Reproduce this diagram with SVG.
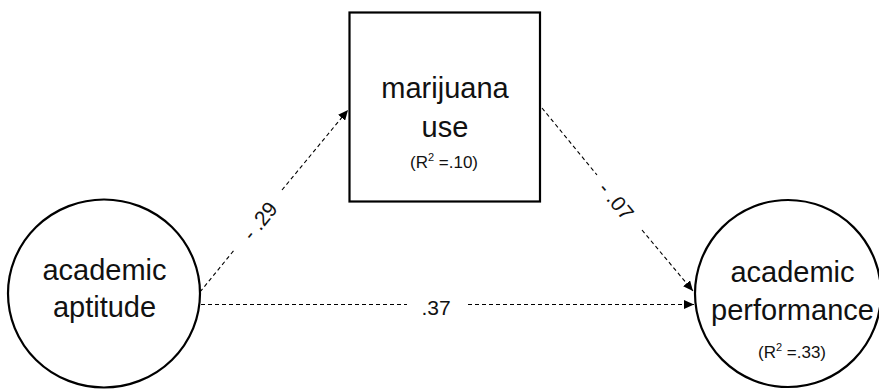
<svg xmlns="http://www.w3.org/2000/svg" width="879" height="389" viewBox="0 0 879 389">
  <style>
    .node { fill: #ffffff; stroke: #000000; stroke-width: 2.2; }
    .big { font-family: "Liberation Sans", Arial, sans-serif; font-size: 29px; fill: #111111; text-anchor: middle; }
    .small { font-family: "Liberation Sans", Arial, sans-serif; font-size: 17px; fill: #111111; text-anchor: middle; }
    .coef { font-family: "Liberation Sans", Arial, sans-serif; font-size: 21px; fill: #111111; text-anchor: middle; }
    .path { fill: none; stroke: #000000; stroke-width: 1.1; stroke-dasharray: 4 3; }
  </style>
  <defs>
    <marker id="arrow" markerUnits="userSpaceOnUse" markerWidth="11" markerHeight="9" refX="10" refY="4.5" orient="auto">
      <path d="M0,0 L10,4.5 L0,9 z" fill="#000000"/>
    </marker>
  </defs>
  <rect width="879" height="389" fill="#ffffff"/>

  <!-- path connectors -->
  <g id="connectors">
    <!-- academic aptitude -> marijuana use -->
    <line class="path" x1="200" y1="292" x2="235" y2="249"/>
    <line class="path" x1="282" y1="190" x2="348" y2="110" marker-end="url(#arrow)"/>
    <text class="coef" transform="translate(260,221) rotate(-50.9)" y="7">- .29</text>
    <!-- marijuana use -> academic performance -->
    <line class="path" x1="542" y1="108" x2="597" y2="175"/>
    <line class="path" x1="642" y1="230" x2="693" y2="291" marker-end="url(#arrow)"/>
    <text class="coef" transform="translate(616,201) rotate(50.5)" y="7">- .07</text>
    <!-- academic aptitude -> academic performance -->
    <line class="path" x1="201" y1="304.5" x2="407" y2="304.5"/>
    <line class="path" x1="468" y1="304.5" x2="694" y2="304.5" marker-end="url(#arrow)"/>
    <text class="coef" x="436" y="315">.37</text>
  </g>

  <g id="marijuana-use">
    <rect class="node" x="349.5" y="12.5" width="190.5" height="189"/>
    <text class="big" x="445" y="98">marijuana</text>
    <text class="big" x="445" y="137">use</text>
    <text class="small" x="444" y="168">(R<tspan font-size="11" dy="-7">2</tspan><tspan dy="7"> =.10)</tspan></text>
  </g>

  <g id="academic-aptitude">
    <ellipse class="node" cx="104" cy="293.5" rx="96" ry="94"/>
    <text class="big" x="104.5" y="280">academic</text>
    <text class="big" x="104.5" y="317">aptitude</text>
  </g>

  <g id="academic-performance">
    <ellipse class="node" cx="788" cy="293.5" rx="93" ry="93.5"/>
    <text class="big" x="792.5" y="282">academic</text>
    <text class="big" x="792.5" y="320">performance</text>
    <text class="small" x="792" y="358">(R<tspan font-size="11" dy="-7">2</tspan><tspan dy="7"> =.33)</tspan></text>
  </g>
</svg>
